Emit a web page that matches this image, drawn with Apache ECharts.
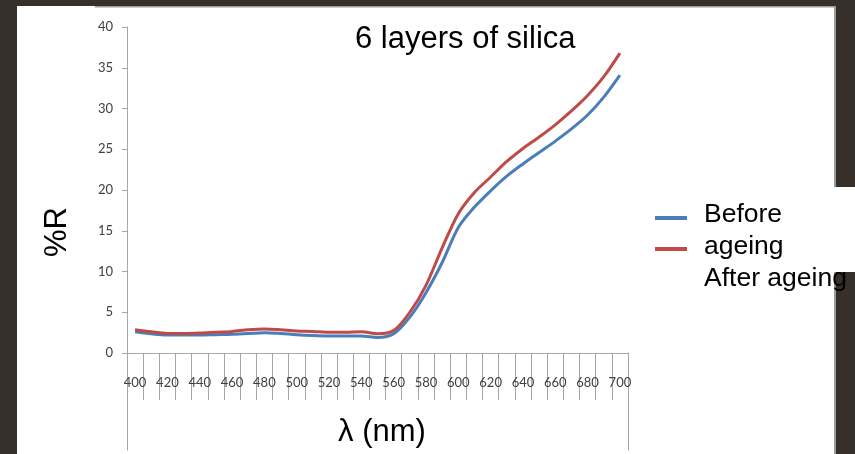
<!DOCTYPE html>
<html>
<head>
<meta charset="utf-8">
<script src="https://cdn.jsdelivr.net/npm/echarts@6/dist/echarts.min.js"></script>
<style>html,body{margin:0;padding:0;background:#372f29;}#c{width:855px;height:454px;}</style>
</head>
<body>
<div id="c"></div>
<script>
const wavelengths = ['400','410','420','430','440','450','460','470','480','490','500','510','520','530','540','550','560','570','580','590','600','610','620','630','640','650','660','670','680','690','700'];
const beforeAgeing = [2.6, 2.35, 2.2, 2.2, 2.2, 2.25, 2.3, 2.4, 2.5, 2.4, 2.25, 2.15, 2.1, 2.1, 2.1, 1.9, 2.35, 4.4, 7.4, 11.1, 15.4, 17.9, 19.9, 21.7, 23.2, 24.6, 26.0, 27.5, 29.2, 31.4, 34.1];
const afterAgeing = [2.85, 2.6, 2.4, 2.4, 2.45, 2.55, 2.65, 2.85, 2.95, 2.85, 2.7, 2.65, 2.55, 2.55, 2.6, 2.35, 2.75, 5.0, 8.3, 12.9, 17.1, 19.7, 21.6, 23.5, 25.1, 26.5, 28.0, 29.7, 31.6, 33.9, 36.8];
const seriesNames = ['Before ageing', 'After ageing'];
const titleText = '6 layers of silica';

const chart = echarts.init(document.getElementById('c'), null, {renderer: 'canvas'});
const axisGray = '#a6a6a6';
const labelFont = 'Lato, "Open Sans", sans-serif';
const bigFont = '"Liberation Sans", Arial, sans-serif';

chart.setOption({
  backgroundColor: '#372f29',
  animation: false,
  title: {
    text: titleText,
    left: 355, top: 24, padding: 0,
    textStyle: {fontFamily: bigFont, fontSize: 31, fontWeight: 'normal', color: '#000'}
  },
  legend: {
    orient: 'vertical',
    left: 650, top: 211,
    itemWidth: 32, itemHeight: 4,
    itemGap: 27,
    icon: 'rect',
    data: seriesNames,
    formatter: function () { return ''; },
    textStyle: {fontSize: 1}
  },
  graphic: [
    {type: 'rect', z: -100, shape: {x: 17, y: 6, width: 818, height: 460}, style: {fill: '#ffffff'}},
    {type: 'rect', z: -99, shape: {x: 95, y: 6, width: 741, height: 1.6}, style: {fill: '#9c9c9c'}},
    {type: 'rect', z: -99, shape: {x: 834, y: 6, width: 2, height: 460}, style: {fill: '#9c9c9c'}},
    {type: 'rect', z: -98, shape: {x: 834, y: 187, width: 21, height: 85}, style: {fill: '#ffffff'}},
    {type: 'text', z: 100, x: 704, y: 199,
     style: {text: 'Before\nageing\nAfter ageing', font: '26.5px "Liberation Sans", Arial, sans-serif', lineHeight: 32, fill: '#000', verticalAlign: 'top', align: 'left'}}
  ],
  grid: [
    {left: 127, right: 227, top: 27, bottom: 101},
    {left: 127, right: 227, top: 353, bottom: 4}
  ],
  xAxis: [
    {
      type: 'category', gridIndex: 0, data: wavelengths, boundaryGap: true,
      axisLine: {lineStyle: {color: axisGray, width: 1}},
      axisTick: {show: true, interval: 0, length: 47, lineStyle: {color: axisGray}},
      axisLabel: {interval: 1, margin: 23, fontFamily: labelFont, fontSize: 13, color: '#404040'},
      name: 'λ (nm)', nameLocation: 'middle', nameGap: 64,
      nameTextStyle: {fontFamily: bigFont, fontSize: 31, color: '#000', padding: [0, 0, 0, 9]}
    },
    {type: 'value', gridIndex: 1, show: false}
  ],
  yAxis: [
    {
      type: 'value', gridIndex: 0, min: 0, max: 40, interval: 5,
      axisLine: {show: true, lineStyle: {color: axisGray, width: 1}},
      axisTick: {show: true, length: 5, lineStyle: {color: axisGray}},
      axisLabel: {margin: 14, fontFamily: labelFont, fontSize: 13, color: '#404040'},
      splitLine: {show: false},
      name: '%R', nameLocation: 'middle', nameRotate: 90, nameGap: 54,
      nameTextStyle: {fontFamily: bigFont, fontSize: 31, color: '#000', padding: [0, 84, 0, 0]}
    },
    {type: 'value', gridIndex: 1, position: 'left', axisLine: {show: true, lineStyle: {color: axisGray}}, axisTick: {show: false}, axisLabel: {show: false}, splitLine: {show: false}},
    {type: 'value', gridIndex: 1, position: 'right', axisLine: {show: true, lineStyle: {color: axisGray}}, axisTick: {show: false}, axisLabel: {show: false}, splitLine: {show: false}}
  ],
  series: [
    {name: seriesNames[0], type: 'line', data: beforeAgeing, smooth: 0.3, symbol: 'none',
     lineStyle: {width: 3, color: '#4a7ebb'}, itemStyle: {color: '#4a7ebb'}},
    {name: seriesNames[1], type: 'line', data: afterAgeing, smooth: 0.3, symbol: 'none',
     lineStyle: {width: 3, color: '#be4b48'}, itemStyle: {color: '#be4b48'}}
  ]
});
</script>
</body>
</html>
